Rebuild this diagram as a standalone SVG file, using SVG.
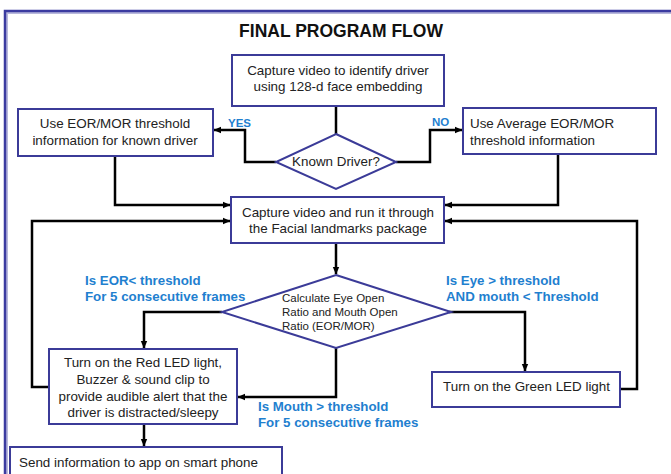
<svg xmlns="http://www.w3.org/2000/svg" width="671" height="474" viewBox="0 0 671 474">
<defs>
<marker id="ah" markerWidth="8" markerHeight="8" refX="7" refY="4" orient="auto" markerUnits="userSpaceOnUse">
<path d="M0,0.8 L7.5,4 L0,7.2 z" fill="#000"/>
</marker>
<style>
.box{fill:#fff;stroke:#3B3B98;stroke-width:2}
.t{font-family:"Liberation Sans",Arial,sans-serif;font-size:13.4px;fill:#222}
.c{text-anchor:middle}
.lbl{font-family:"Liberation Sans",Arial,sans-serif;font-size:13.3px;font-weight:bold;fill:#1F80CF}
.sm{font-size:11.5px}
.ln{fill:none;stroke:#000;stroke-width:2.5}
.ar{marker-end:url(#ah)}
</style>
</defs>
<rect width="671" height="474" fill="#fff"/>
<g id="frame">
<rect x="7" y="13" width="700" height="500" fill="none" stroke="#B8B8DC" stroke-width="2"/>
<rect x="5" y="11" width="700" height="500" fill="none" stroke="#3B3BA0" stroke-width="2.5"/>
</g>
<text x="341" y="37" class="t c" style="font-size:17.5px;font-weight:bold;fill:#111">FINAL PROGRAM FLOW</text>

<g id="connectors">
<path class="ln" d="M336,106 V134"/>
<path class="ln ar" d="M276,162 H245 V130 H214"/>
<path class="ln ar" d="M396,162 H430 V130 H462"/>
<path class="ln ar" d="M115,156 V205 H230"/>
<path class="ln ar" d="M558,154 V205 H445"/>
<path class="ln ar" d="M49,387 H32 V221 H230"/>
<path class="ln ar" d="M620,389 H637 V221 H445"/>
<path class="ln ar" d="M336,243 V274"/>
<path class="ln ar" d="M222,312 H144 V348"/>
<path class="ln ar" d="M449,312 H525 V371"/>
<path class="ln ar" d="M336,348 V397 H238"/>
<path class="ln ar" d="M144,424 V446"/>
</g>

<g id="n_capture1">
<rect class="box" x="232" y="55" width="212" height="51"/>
<text class="t c" x="338" y="75">Capture video to identify driver</text>
<text class="t c" x="338" y="91">using 128-d face embedding</text>
</g>
<g id="n_known">
<rect class="box" x="18" y="109" width="195" height="47"/>
<text class="t c" x="115" y="128">Use EOR/MOR threshold</text>
<text class="t c" x="115" y="145">information for known driver</text>
</g>
<g id="n_avg">
<rect class="box" x="463" y="108" width="193" height="46"/>
<text class="t" x="470" y="128">Use Average  EOR/MOR</text>
<text class="t" x="470" y="145">threshold information</text>
</g>
<g id="n_decision1">
<polygon class="box" points="336,134 396,162 336,189 276,162"/>
<text class="t c" x="336" y="166">Known Driver?</text>
</g>
<text class="lbl" x="228" y="127" style="font-size:11.5px">YES</text>
<text class="lbl" x="432" y="126" style="font-size:11.5px">NO</text>

<g id="n_capture2">
<rect class="box" x="231" y="197" width="213" height="46"/>
<text class="t c" x="338" y="217">Capture video and run it through</text>
<text class="t c" x="338" y="233">the Facial landmarks package</text>
</g>
<g id="n_decision2">
<polygon class="box" points="336,275 451,312 336,348 222,312"/>
<text class="t sm" x="282" y="302">Calculate Eye Open</text>
<text class="t sm" x="282" y="316">Ratio and Mouth Open</text>
<text class="t sm" x="282" y="330">Ratio (EOR/MOR)</text>
</g>
<g id="n_red">
<rect class="box" x="49" y="349" width="188" height="75"/>
<text class="t c" x="143" y="367">Turn on the Red LED light,</text>
<text class="t c" x="143" y="384">Buzzer &amp; sound clip to</text>
<text class="t c" x="143" y="401">provide audible alert that the</text>
<text class="t c" x="143" y="417">driver is distracted/sleepy</text>
</g>
<g id="n_green">
<rect class="box" x="432" y="372" width="188" height="35"/>
<text class="t" x="443" y="391">Turn on the Green LED light</text>
</g>
<g id="n_send">
<rect class="box" x="10" y="447" width="272" height="30"/>
<text class="t" x="19" y="467">Send information to app on smart phone</text>
</g>

<text class="lbl" x="85" y="285">Is EOR&lt;  threshold</text>
<text class="lbl" x="85" y="301">For 5 consecutive frames</text>
<text class="lbl" x="446" y="285">Is Eye &gt; threshold</text>
<text class="lbl" x="446" y="301">AND mouth &lt; Threshold</text>
<text class="lbl" x="258" y="411">Is Mouth &gt; threshold</text>
<text class="lbl" x="258" y="427">For 5 consecutive frames</text>
</svg>
